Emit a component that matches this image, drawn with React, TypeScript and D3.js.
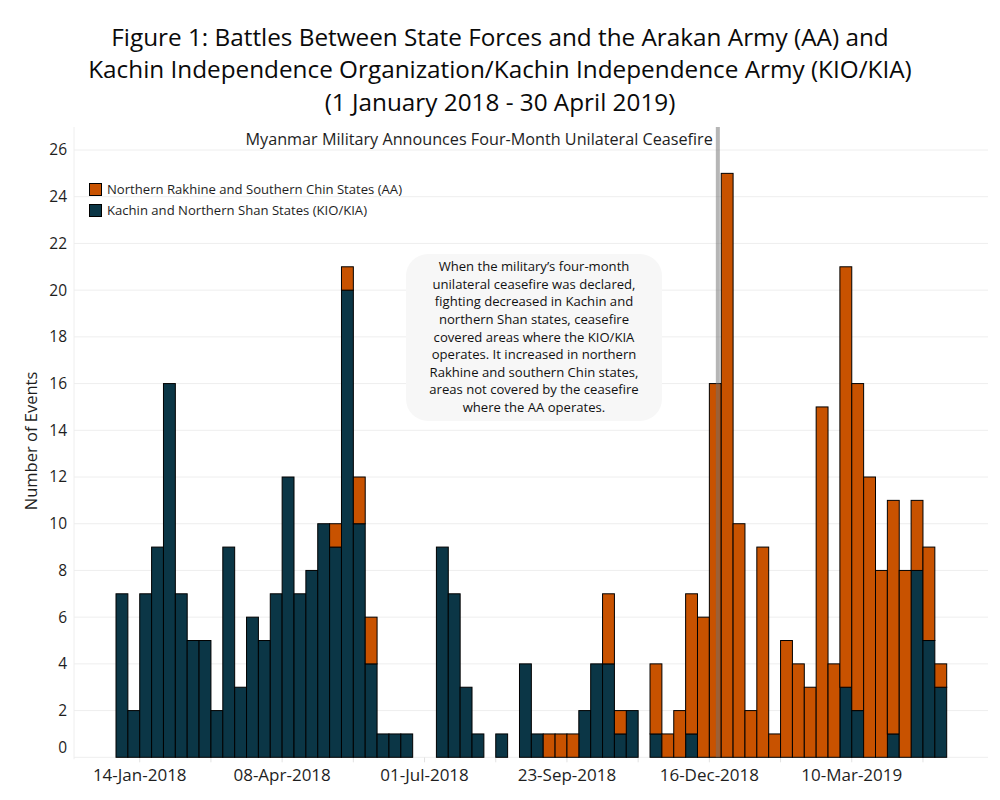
import React from "react";
import * as d3 from "d3";

const titleLines = [
  "Figure 1: Battles Between State Forces and the Arakan Army (AA) and",
  "Kachin Independence Organization/Kachin Independence Army (KIO/KIA)",
  "(1 January 2018 - 30 April 2019)",
];

const seriesNames = [
  "Northern Rakhine and Southern Chin States (AA)",
  "Kachin and Northern Shan States (KIO/KIA)",
];

// weekly counts, weeks starting Sunday 31-Dec-2017 through 28-Apr-2019
const kachin = [
  7, 2, 7, 9, 16, 7, 5, 5, 2, 9, 3, 6, 5, 7, 12, 7, 8, 10, 9, 20, 10, 4, 1, 1, 1,
  0, 0,
  9, 7, 3, 1, 0, 1, 0, 4, 1, 0, 0, 0, 2, 4, 4, 1, 2,
  0,
  1, 0, 0, 1, 0, 0, 0, 0, 0, 0, 0, 0, 0, 0, 0, 0, 3, 2, 0, 0, 1, 0, 8, 5, 3,
];
const rakhine = [
  0, 0, 0, 0, 0, 0, 0, 0, 0, 0, 0, 0, 0, 0, 0, 0, 0, 0, 1, 1, 2, 2, 0, 0, 0,
  0, 0,
  0, 0, 0, 0, 0, 0, 0, 0, 0, 1, 1, 1, 0, 0, 3, 1, 0,
  0,
  3, 1, 2, 6, 6, 16, 25, 10, 2, 9, 1, 5, 4, 3, 15, 4, 18, 14, 12, 8, 10, 8, 3, 4, 1,
];

const firstWeek = new Date(Date.UTC(2017, 11, 31));
const endWeek = new Date(Date.UTC(2019, 4, 5));
const weeks = d3.utcSunday.range(firstWeek, endWeek);

const yTicks = [0, 2, 4, 6, 8, 10, 12, 14, 16, 18, 20, 22, 24, 26];
const xLabelDates = ["2018-01-14", "2018-04-08", "2018-07-01", "2018-09-23", "2018-12-16", "2019-03-10"];
const xLabelTexts = ["14-Jan-2018", "08-Apr-2018", "01-Jul-2018", "23-Sep-2018", "16-Dec-2018", "10-Mar-2019"];
const xTickDates = ["2018-01-14", "2018-02-25", "2018-04-08", "2018-05-20", "2018-07-01", "2018-08-12", "2018-09-23", "2018-11-04", "2018-12-16", "2019-01-27", "2019-03-10", "2019-04-21"];

const ceasefireDate = "2018-12-21";
const ceasefireLabel = "Myanmar Military Announces Four-Month Unilateral Ceasefire";

const noteLines = [
  "When the military\u2019s four-month",
  "unilateral ceasefire was declared,",
  "fighting decreased in Kachin and",
  "northern Shan states, ceasefire",
  "covered areas where the KIO/KIA",
  "operates. It increased in northern",
  "Rakhine and southern Chin states,",
  "areas not covered by the ceasefire",
  "where the AA operates.",
];

const COLORS = { rakhine: "#c85200", kachin: "#0b3646" };
const FONT = "'Open Sans', 'Noto Sans', sans-serif";
const TEXT = "#1e1e1e";

export default function App() {
  const plotLeft = 74;
  const plotRight = 988;
  const plotTop = 127;
  const plotBottom = 757.3;

  const x = d3.scaleUtc().domain([firstWeek, endWeek]).range([116, 946.7]);
  const y = d3.scaleLinear().domain([0, 26]).range([plotBottom, 150]);

  const rows = weeks.map((w, i) => ({ date: w, kachin: kachin[i], rakhine: rakhine[i] }));
  const stacked = d3.stack<any>().keys(["kachin", "rakhine"])(rows);

  const parse = (s: string) => new Date(s + "T00:00:00Z");
  const cx = x(parse(ceasefireDate));

  return (
    <svg width={1000} height={800} style={{ position: "absolute", left: 0, top: 0, background: "#fff" }} fontFamily={FONT}>
      {/* title */}
      {titleLines.map((t, i) => (
        <text key={i} x={500} y={45.5 + i * 32.5} textAnchor="middle" fontSize={24.3} fill="#0a0a0a">
          {t}
        </text>
      ))}

      {/* gridlines */}
      {yTicks.map((t) => (
        <line key={t} x1={plotLeft} x2={plotRight} y1={y(t)} y2={y(t)} stroke="#eeeeee" strokeWidth={1} />
      ))}
      <line x1={plotLeft} x2={plotLeft} y1={plotTop} y2={plotBottom + 2} stroke="#eeeeee" />

      {/* y tick labels */}
      {yTicks.map((t) => (
        <text key={t} x={67} y={t === 0 ? y(t) - 10 : y(t)} dy="0.35em" textAnchor="end" fontSize={15.5} fill={TEXT}>
          {t}
        </text>
      ))}
      <text transform={`translate(37,441) rotate(-90)`} textAnchor="middle" fontSize={16.5} fill={TEXT}>
        Number of Events
      </text>

      {/* x axis ticks */}
      {xTickDates.map((d) => (
        <line key={d} x1={x(parse(d))} x2={x(parse(d))} y1={plotBottom} y2={plotBottom + 5} stroke="#e2e2e2" />
      ))}
      {xLabelDates.map((d, i) => (
        <text key={d} x={x(parse(d))} y={781} textAnchor="middle" fontSize={17} fill={TEXT}>
          {xLabelTexts[i]}
        </text>
      ))}

      {/* bars */}
      {stacked.map((s) => (
        <g key={s.key} fill={(COLORS as any)[s.key]}>
          {s.map((d: any, i: number) =>
            d[1] - d[0] > 0 ? (
              <rect
                key={i}
                x={x(weeks[i])}
                width={x(d3.utcDay.offset(weeks[i], 7)) - x(weeks[i])}
                y={y(d[1])}
                height={y(d[0]) - y(d[1])}
                stroke="#000"
                strokeWidth={1}
              />
            ) : null
          )}
        </g>
      ))}

      {/* ceasefire reference line */}
      <rect x={cx - 2} width={4} y={plotTop} height={plotBottom - plotTop} fill="rgb(110,110,110)" fillOpacity={0.5} />
      <text x={cx - 5} y={144.5} textAnchor="end" fontSize={16.2} fill={TEXT}>
        {ceasefireLabel}
      </text>

      {/* legend */}
      {seriesNames.map((n, i) => (
        <g key={n}>
          <rect x={89.5} y={183.5 + i * 21} width={12} height={12} fill={i === 0 ? COLORS.rakhine : COLORS.kachin} stroke="#000" strokeWidth={1} />
          <text x={107} y={189.5 + i * 21} dy="0.35em" fontSize={13.1} fill={TEXT}>
            {n}
          </text>
        </g>
      ))}

      {/* annotation box */}
      <rect x={406} y={254} width={256} height={167} rx={22} fill="#f7f7f7" />
      {noteLines.map((l, i) => (
        <text key={i} x={534} y={266.7 + i * 17.6} dy="0.35em" textAnchor="middle" fontSize={13.1} fill="#111">
          {l}
        </text>
      ))}
    </svg>
  );
}
